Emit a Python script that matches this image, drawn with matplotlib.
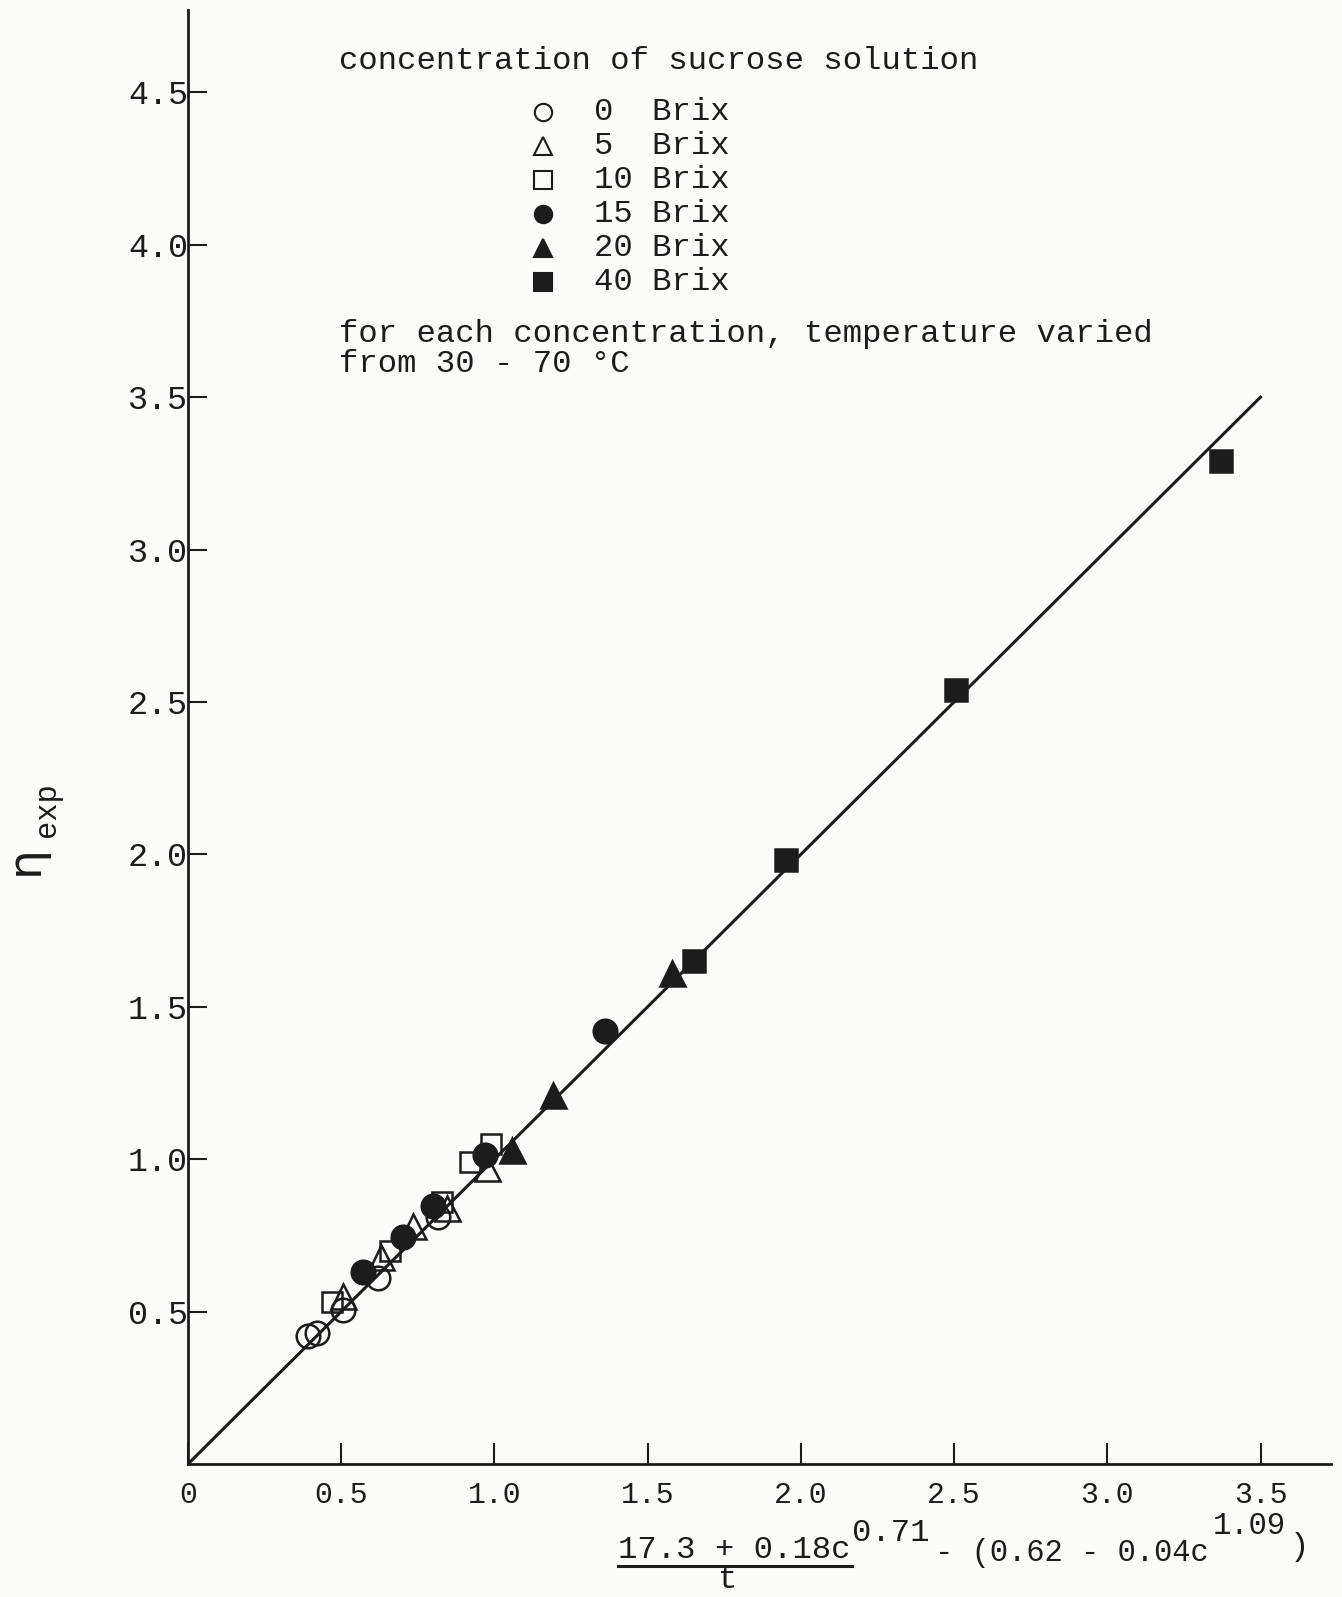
import matplotlib
matplotlib.use('Agg')
import matplotlib.pyplot as plt
import matplotlib.lines as mlines

# data
x_0brix  = [0.39, 0.42, 0.505, 0.62, 0.815]
y_0brix  = [0.42, 0.43, 0.505, 0.61, 0.81]
x_5brix  = [0.505, 0.63, 0.735, 0.845, 0.975]
y_5brix  = [0.55, 0.68, 0.78, 0.84, 0.97]
x_10brix = [0.47, 0.66, 0.83, 0.92, 0.99]
y_10brix = [0.53, 0.70, 0.86, 0.99, 1.05]
x_15brix = [0.57, 0.70, 0.80, 0.97, 1.36]
y_15brix = [0.63, 0.745, 0.845, 1.015, 1.42]
x_20brix = [1.057, 1.19, 1.58]
y_20brix = [1.03, 1.21, 1.61]
x_40brix = [1.65, 1.95, 2.506, 3.37]
y_40brix = [1.65, 1.98, 2.54, 3.29]

fit_x = [0, 3.5]
fit_y = [0, 3.5]

xticks = [0, 0.5, 1.0, 1.5, 2.0, 2.5, 3.0, 3.5]
xticklabels = ['0', '0.5', '1.0', '1.5', '2.0', '2.5', '3.0', '3.5']
yticks = [0.5, 1.0, 1.5, 2.0, 2.5, 3.0, 3.5, 4.0, 4.5]
yticklabels = ['0.5', '1.0', '1.5', '2.0', '2.5', '3.0', '3.5', '4.0', '4.5']

legend_labels = ['0  Brix', '5  Brix', '10 Brix', '15 Brix', '20 Brix', '40 Brix']
legend_markers = ['o', '^', 's', 'o', '^', 's']
legend_filled = [False, False, False, True, True, True]

ink = '#1c1c1c'
paper = '#fbfbf9'
mono = 'Liberation Mono'
fs = 23.2

W, H = 1342, 1597
fig = plt.figure(figsize=(W/100., H/100.), dpi=100, facecolor=paper)
ax = fig.add_axes([188./W, 133./H, 1143./W, 1454./H])
ax.set_facecolor(paper)
ax.set_xlim(0, 3.73)
ax.set_ylim(0, 4.77)

for s in ['top', 'right']:
    ax.spines[s].set_visible(False)
for s in ['left', 'bottom']:
    ax.spines[s].set_linewidth(2.0)
    ax.spines[s].set_color(ink)

ax.set_xticks(xticks)
ax.set_xticklabels(xticklabels, family=mono, fontsize=21.5, color=ink)
ax.set_yticks(yticks)
ax.set_yticklabels(yticklabels, family=mono, fontsize=24, color=ink)
ax.tick_params(axis='x', direction='in', length=15, width=1.5, pad=12, color=ink)
ax.tick_params(axis='y', direction='in', length=14, width=1.5, pad=0, color=ink)

# fitted line
ax.plot(fit_x, fit_y, color=ink, lw=2.2, zorder=2)

def pts(x, y, m, filled, ms):
    ax.plot(x, y, ls='none', marker=m, ms=ms, mew=1.8, mec=ink,
            mfc=ink if filled else 'none', zorder=3)

pts(x_0brix, y_0brix, 'o', False, 17)
pts(x_5brix, y_5brix, '^', False, 18)
pts(x_10brix, y_10brix, 's', False, 15)
pts(x_15brix, y_15brix, 'o', True, 17)
pts(x_20brix, y_20brix, '^', True, 18)
pts(x_40brix, y_40brix, 's', True, 16)

# legend block, typed text
def fy(py):
    return 1 - py/float(H)

fig.text(339./W, fy(61), 'concentration of sucrose solution', family=mono,
         fontsize=fs, color=ink, va='center')
row_y = [112, 146, 180, 214, 248, 282]
for lab, m, f, ry in zip(legend_labels, legend_markers, legend_filled, row_y):
    fig.add_artist(mlines.Line2D([543./W], [fy(ry)], marker=m, ms=12.5, mew=1.5,
                                 mec=ink, mfc=ink if f else 'none', ls='none'))
    fig.text(594./W, fy(ry), lab, family=mono, fontsize=fs, color=ink, va='center')
fig.text(339./W, fy(334), 'for each concentration, temperature varied',
         family=mono, fontsize=fs, color=ink, va='center')
fig.text(339./W, fy(364), 'from 30 - 70 \u00b0C', family=mono, fontsize=fs,
         color=ink, va='center')

# y label: eta with subscript exp
fig.text(25./W, fy(860), '\u03b7', family='DejaVu Sans', fontsize=34,
         color=ink, rotation=90, ha='center', va='center')
fig.text(47./W, fy(810), 'exp', family=mono, fontsize=22, color=ink,
         rotation=90, ha='center', va='center')

# x label: (17.3 + 0.18c^0.71)/t - (0.62 - 0.04c^1.09)
fig.text(618./W, fy(1550), '17.3 + 0.18c', family=mono, fontsize=fs,
         color=ink, va='center')
fig.add_artist(mlines.Line2D([618./W, 852./W], [fy(1566), fy(1566)],
                             color=ink, lw=2.2))
fig.text(728./W, fy(1580), 't', family=mono, fontsize=fs, color=ink,
         ha='center', va='center')
fig.text(852./W, fy(1533), '0.71', family=mono, fontsize=fs, color=ink,
         va='center')
fig.text(935./W, fy(1553), '- (0.62 - 0.04c', family=mono, fontsize=22,
         color=ink, va='center')
fig.text(1213./W, fy(1526), '1.09', family=mono, fontsize=22, color=ink,
         va='center')
fig.text(1290./W, fy(1547), ')', family=mono, fontsize=fs, color=ink,
         va='center')

fig.savefig('out.png', dpi=100, facecolor=paper)
